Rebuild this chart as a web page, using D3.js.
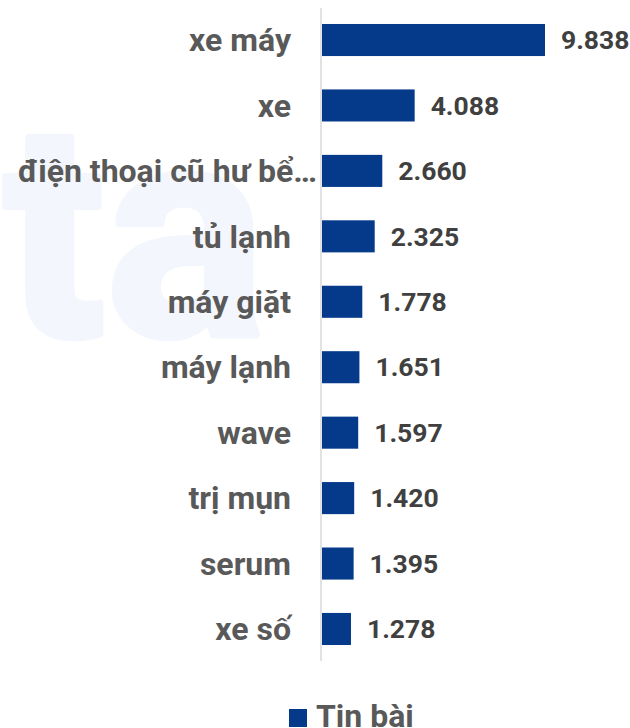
<!DOCTYPE html>
<html><head><meta charset="utf-8">
<script src="https://cdn.jsdelivr.net/npm/d3@7"></script>
<style>body{margin:0;background:#fff}svg{display:block}</style>
</head><body><svg id="c" width="630" height="728"></svg>
<script>
const categories = ["xe máy","xe","điện thoại cũ hư bể…","tủ lạnh","máy giặt","máy lạnh","wave","trị mụn","serum","xe số"];
const values = [9838,4088,2660,2325,1778,1651,1597,1420,1395,1278];
const seriesName = "Tin bài";
const fmt = v => d3.format(",")(v).replace(/,/g,".");

const svg = d3.select("#c");
svg.append("text").attr("x",4).attr("y",335).attr("font-family","Roboto").attr("font-weight","bold")
  .attr("font-size",300).attr("fill","#f3f6fc").attr("stroke","#f3f6fc").attr("stroke-width",7)
  .attr("stroke-linejoin","round").text("ta");

const x = d3.scaleLinear().domain([0,12000]).range([322,594]);
const y = d3.scaleBand().domain(categories).range([7.3,661.7]).paddingInner(0.51).paddingOuter(0.255);

svg.append("line").attr("x1",321).attr("x2",321).attr("y1",8).attr("y2",661).attr("stroke","#d9d9d9").attr("stroke-width",1.5);

svg.selectAll("rect.bar").data(values).join("rect").attr("class","bar")
  .attr("x",x(0)).attr("y",(d,i)=>y(categories[i])).attr("width",d=>x(d)-x(0)).attr("height",y.bandwidth())
  .attr("fill","#053a8b");

const labs = svg.selectAll("text.lab").data(categories).join("text").attr("class","lab")
  .attr("x",291).attr("y",d=>y(d)+y.bandwidth()/2).attr("dy","0.35em").attr("text-anchor","end")
  .attr("font-family","Roboto").attr("font-weight","bold").attr("font-size",32).attr("fill","#595959").text(d=>d);
// labels too wide for the label area start at the left margin instead
labs.each(function(){ const w=this.getComputedTextLength(); if (291-w < 18) d3.select(this).attr("text-anchor","start").attr("x",18); });

svg.selectAll("text.val").data(values).join("text").attr("class","val")
  .attr("x",d=>x(d)+16).attr("y",(d,i)=>y(categories[i])+y.bandwidth()/2).attr("dy","0.35em")
  .attr("font-family","Roboto").attr("font-weight","bold").attr("font-size",26.5).attr("fill","#404040").text(fmt);

const lg = svg.append("g");
lg.append("rect").attr("x",289).attr("y",709).attr("width",18).attr("height",18).attr("fill","#053a8b");
lg.append("text").attr("x",316).attr("y",727).attr("font-family","Roboto").attr("font-weight","bold")
  .attr("font-size",32).attr("fill","#595959").text(seriesName);
</script></body></html>
